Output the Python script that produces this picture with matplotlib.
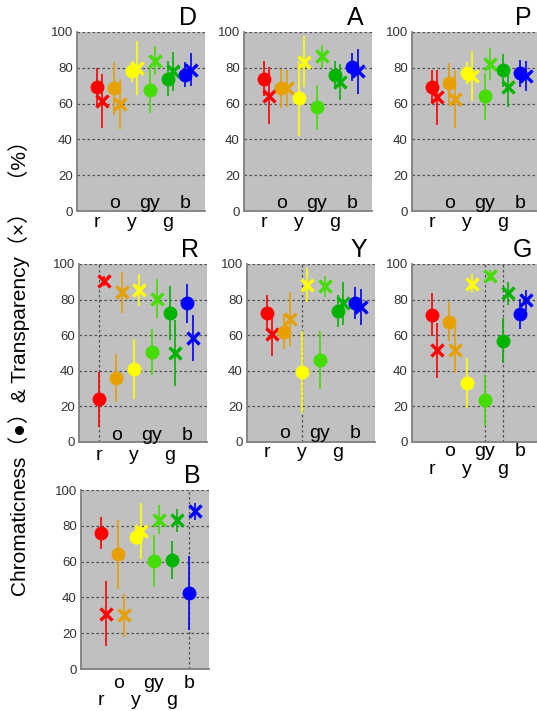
import matplotlib
matplotlib.use("Agg")
import matplotlib.pyplot as plt

# ---------------- data ----------------
categories = ['r', 'o', 'y', 'gy', 'g', 'b']
cat_colors = ['#FF0000', '#E6A000', '#FFFF00', '#44DD00', '#00B400', '#0000FF']
panel_names = ['D', 'A', 'P', 'R', 'Y', 'G', 'B']

D_chroma = [69, 68.5, 78, 67.5, 74, 76]
D_chroma_err = [11, 15, 6, 13, 10, 7]
D_transp = [61.5, 60, 80, 84, 78, 79]
D_transp_err = [15, 14, 15, 8, 11, 9]

A_chroma = [74, 68.5, 63, 58, 76, 80.5]
A_chroma_err = [10, 11, 21, 12.5, 8, 8]
A_transp = [64.5, 68.5, 83.5, 86.5, 72, 78]
A_transp_err = [16, 10.5, 14, 6.5, 10, 12.5]

P_chroma = [69.5, 71.5, 77, 64, 78.5, 77]
P_chroma_err = [9, 11, 6, 13, 9, 7.5]
P_transp = [63.5, 62.5, 75.5, 82, 69, 75.5]
P_transp_err = [15.5, 16, 14, 9, 11, 8.5]

R_chroma = [24, 36, 41, 50.5, 72.5, 78]
R_chroma_err = [15.5, 13.5, 17, 13, 15, 11]
R_transp = [90.5, 84, 85.5, 80.5, 50, 58.5]
R_transp_err = [3, 11.5, 9, 11, 18.5, 13]

Y_chroma = [72.5, 62, 39.5, 46, 73.5, 78]
Y_chroma_err = [10, 10, 23, 16.5, 9, 9]
Y_transp = [60.5, 69, 88, 87.5, 78, 76]
Y_transp_err = [12, 15, 9.5, 6, 12, 10]

G_chroma = [71.5, 67.5, 33, 23.5, 57, 72]
G_chroma_err = [12, 11, 14, 14.3, 12.7, 8.5]
G_transp = [51.5, 51.5, 89, 93.5, 83.5, 79.5]
G_transp_err = [15.5, 13, 5.5, 3, 6.5, 6]

B_chroma = [76, 64, 74, 60.5, 61, 42.5]
B_chroma_err = [9, 19.5, 5, 14.5, 10.6, 20.6]
B_transp = [31, 30, 77, 83.5, 83, 88]
B_transp_err = [18, 12, 15.5, 8, 6.6, 5]

highlight = {'R': ['r'], 'Y': ['y'], 'G': ['gy', 'g'], 'B': ['b']}

panel_data = {
    'D': (D_chroma, D_chroma_err, D_transp, D_transp_err),
    'A': (A_chroma, A_chroma_err, A_transp, A_transp_err),
    'P': (P_chroma, P_chroma_err, P_transp, P_transp_err),
    'R': (R_chroma, R_chroma_err, R_transp, R_transp_err),
    'Y': (Y_chroma, Y_chroma_err, Y_transp, Y_transp_err),
    'G': (G_chroma, G_chroma_err, G_transp, G_transp_err),
    'B': (B_chroma, B_chroma_err, B_transp, B_transp_err),
}

# ---------------- layout (pixels) ----------------
W, H = 537, 711
layout = {
    'D': (77, 32, 211), 'A': (244, 32, 211), 'P': (412, 32, 211),
    'R': (79, 264, 442), 'Y': (247, 264, 442), 'G': (412, 264, 442),
    'B': (81, 490, 669),
}
ax_w = 128
label_offsets = {
    'D': (3, -16), 'A': (3, -16), 'P': (3, -16),
    'R': (2, -18), 'Y': (4, -15), 'G': (-14, -32), 'B': (-19, -36),
}

PX2PT = 72.0 / 100.0
font_lat = ['Liberation Sans', 'Noto Sans CJK JP', 'DejaVu Sans']
plt.rcParams['font.family'] = font_lat

fig = plt.figure(figsize=(W / 100, H / 100), dpi=100)

xs = list(range(1, len(categories) + 1))
off = 0.3

for name in panel_names:
    left, top, bottom = layout[name]
    ax = fig.add_axes([left / W, 1 - bottom / H, ax_w / W, (bottom - top) / H])
    ax.set_facecolor('#C0C0C0')
    ax.set_xlim(-0.1, 7.1)
    ax.set_ylim(0, 100)
    ax.set_yticks([0, 20, 40, 60, 80, 100])
    ax.set_xticks([])
    ax.yaxis.grid(True, ls=(0, (2, 2)), color='#505050', lw=0.9)
    ax.set_axisbelow(True)
    ax.tick_params(axis='y', length=0, pad=3, labelsize=9.5, labelcolor='#333333')
    for s in ['top', 'right']:
        ax.spines[s].set_visible(False)
    for s in ['left', 'bottom']:
        ax.spines[s].set_color('#808080')
        ax.spines[s].set_linewidth(1.3)

    for c in highlight.get(name, []):
        ax.axvline(xs[categories.index(c)], color='#505050', ls=(0, (2, 2)), lw=0.9, zorder=1)

    ch, che, tr, tre = panel_data[name]
    for i, cat in enumerate(categories):
        col = cat_colors[i]
        ax.errorbar(xs[i], ch[i], yerr=che[i], fmt='o', color=col, ms=9,
                    elinewidth=1.2, capsize=0, zorder=3)
        ax.errorbar(xs[i] + off, tr[i], yerr=tre[i], fmt='x', color=col, ms=9,
                    mew=2.4, elinewidth=1.2, capsize=0, zorder=3)

    up, lo = label_offsets[name]
    for i, cat in enumerate(categories):
        o = up if i % 2 == 1 else lo
        ax.annotate(cat, xy=(xs[i], 0), xycoords=('data', 'axes fraction'),
                    xytext=(0, o * PX2PT), textcoords='offset points',
                    ha='center', va='baseline', fontsize=14, color='black',
                    annotation_clip=False, zorder=5)

    ax.text(120 / ax_w, 1.01, name, transform=ax.transAxes, ha='right',
            va='bottom', fontsize=18, color='black')

fig.text(0.036, 0.49, 'Chromaticness（●）& Transparency（×）  （%）',
         rotation=90, ha='center', va='center', fontsize=15,
         family=font_lat)

fig.savefig('out.png', dpi=100)
